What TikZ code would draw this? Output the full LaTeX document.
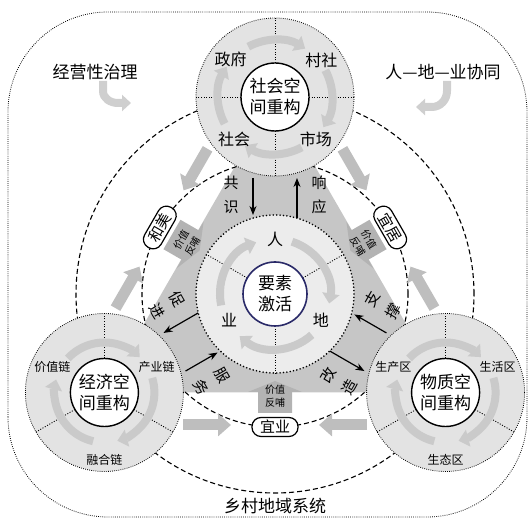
\documentclass[tikz,border=0pt]{standalone}
\usepackage{fontspec}
\setmainfont{Noto Sans CJK SC}
\usetikzlibrary{arrows.meta,calc}
\definecolor{ringgray}{HTML}{E3E3E3}
\definecolor{centerring}{HTML}{ECECEC}
\definecolor{trigray}{HTML}{C6C6C6}
\definecolor{valgray}{HTML}{B3B3B3}
\definecolor{arcgray}{HTML}{CACACA}
\definecolor{fatgray}{HTML}{BEBEBE}
\definecolor{cornergray}{HTML}{CFCFCF}
\definecolor{navyline}{HTML}{2A2A68}
\begin{document}
\begin{tikzpicture}[x=1pt,y=1pt,
  dotline/.style={line width=0.8pt, dash pattern=on 0.8pt off 1.3pt},
  bigdots/.style={line width=1.8pt, dash pattern=on 0pt off 3.4pt, line cap=round},
  dashline/.style={line width=1.1pt, dash pattern=on 5pt off 3pt},
  divider/.style={line width=0.9pt, dash pattern=on 1pt off 1.6pt},
  arcarrow/.style={draw=arcgray, line width=8pt, -{Triangle[length=10pt,width=17pt]}},
  fatarrow/.style={draw=fatgray, line width=11pt, -{Triangle[length=13pt,width=22pt]}},
  cornerarrow/.style={draw=cornergray, line width=8pt, -{Triangle[length=9pt,width=16pt]}},
  blackarrow/.style={line width=1.2pt, -{Stealth[length=9pt,width=7pt]}},
  pill/.style={draw, line width=1.2pt, fill=white, rounded corners=9pt, minimum width=46pt, minimum height=19pt, inner sep=1pt, font=\fontsize{15}{15}\selectfont},
  ctext/.style={font=\fontsize{17}{21}\selectfont, align=center},
  labtext/.style={font=\fontsize{16}{16}\selectfont, inner sep=0pt},
  smalltext/.style={font=\fontsize{12}{12}\selectfont, inner sep=0pt},
  valtext/.style={font=\fontsize{10}{13}\selectfont, align=center, inner sep=0pt},
  pairtext/.style={font=\fontsize{15}{24}\selectfont, align=center, inner sep=0pt},
  cornertext/.style={font=\fontsize{17}{17}\selectfont, inner sep=0pt},
  ringbase/.style={circle, inner sep=0pt, minimum size=158pt, fill=ringgray, draw, dotline},
  hub/.style={circle, inner sep=0pt, minimum size=68pt, draw, line width=1.4pt, fill=white, ctext},
]
\useasboundingbox (0,0) rectangle (531,519);
\coordinate (C) at (275,225);
\coordinate (T) at (275,422);
\coordinate (L) at (104.4,126.5);
\coordinate (R) at (445.6,126.5);

% outer frame
\draw[dotline, rounded corners=100pt] (8,2) rectangle (527,507);
\node[cornertext] (sys) at (275,13) {乡村地域系统};

% triangle
\fill[trigray] (T) -- (L) -- (R) -- cycle;

% dashed circles
\draw[dashline] (C) circle[radius=199];
\draw[dashline] (C) circle[radius=133];

% value feedback arrows and fat arrows
\foreach \rot/\tag in {0/b,-120/l,120/r}{
  \begin{scope}[shift={(C)}, rotate=\rot]
    \fill[valgray] (0,-87) -- (27,-98) -- (17,-98) -- (17,-119) -- (-17,-119) -- (-17,-98) -- (-27,-98) -- cycle;
    \coordinate (fa1\tag) at (-92,-131); \coordinate (fa2\tag) at (-44,-131);
    \coordinate (fb1\tag) at (92,-131); \coordinate (fb2\tag) at (44,-131);
    \coordinate (val\tag) at (0,-102);
    \coordinate (pill\tag) at (0,-133);
  \end{scope}
  \draw[fatarrow] (fa1\tag) -- (fa2\tag);
  \draw[fatarrow] (fb1\tag) -- (fb2\tag);
}

% corner texts and arrows
\node[cornertext] (gov) at (95,447) {经营性治理};
\node[cornertext] (syn) at (443,447) {人—地—业协同};
\coordinate (ga) at (103,438);
\coordinate (gb) at (131,416);
\draw[cornerarrow] (ga) -- (103,428) to[out=-90,in=180] (118,416) -- (gb);
\coordinate (sa) at (447,438);
\coordinate (sb) at (416,412);
\draw[cornerarrow] (sa) -- (447,428) to[out=-90,in=0] (432,412) -- (sb);

% centre circle
\node[circle, inner sep=0pt, minimum size=158pt, fill=centerring] (Cring) at (C) {};
\draw[bigdots] (C) circle[radius=79];
\foreach \a in {30,150,270} \draw[divider] ($(C)+(\a:32)$) -- ($(C)+(\a:79)$);
\foreach \c in {32,272,152} \draw[arcarrow] ($(C)+(\c+40:55)$) arc[start angle=\c+40, end angle=\c-42, radius=55];
\node[circle, inner sep=0pt, minimum size=64pt, draw=navyline, line width=1.6pt, fill=white, ctext] (Chub) at (C) {要素\\激活};
\node[labtext] (ren) at ($(C)+(90:55)$) {人};
\node[labtext] (ye) at ($(C)+(210:53)$) {业};
\node[labtext] (di) at ($(C)+(330:53)$) {地};

% top circle
\node[ringbase] (Tring) at (T) {};
\foreach \a in {0,90,180,270} \draw[divider] ($(T)+(\a:34)$) -- ($(T)+(\a:79)$);
\foreach \c in {90,0,270,180} \draw[arcarrow] ($(T)+(\c+28:57)$) arc[start angle=\c+28, end angle=\c-32, radius=57];
\node[hub] (Thub) at (T) {社会空\\间重构};
\node[labtext] at ($(T)+(140:58)$) {政府};
\node[labtext] at ($(T)+(38:59)$) {村社};
\node[labtext] at ($(T)+(226:59)$) {社会};
\node[labtext] at ($(T)+(314:59)$) {市场};

% left circle
\node[ringbase] (Lring) at (L) {};
\foreach \a in {90,210,330} \draw[divider] ($(L)+(\a:34)$) -- ($(L)+(\a:79)$);
\foreach \c in {90,330,210} \draw[arcarrow] ($(L)+(\c+47:50)$) arc[start angle=\c+47, end angle=\c-45, radius=50];
\node[hub] (Lhub) at (L) {经济空\\间重构};
\node[smalltext] at ($(L)+(154:58)$) {价值链};
\node[smalltext] at ($(L)+(26:58)$) {产业链};
\node[smalltext] at ($(L)+(270:67)$) {融合链};

% right circle
\node[ringbase] (Rring) at (R) {};
\foreach \a in {90,210,330} \draw[divider] ($(R)+(\a:34)$) -- ($(R)+(\a:79)$);
\foreach \c in {90,330,210} \draw[arcarrow] ($(R)+(\c+47:50)$) arc[start angle=\c+47, end angle=\c-45, radius=50];
\node[hub] (Rhub) at (R) {物质空\\间重构};
\node[smalltext] at ($(R)+(154:58)$) {生产区};
\node[smalltext] at ($(R)+(26:58)$) {生活区};
\node[smalltext] at ($(R)+(270:67)$) {生态区};

% pills
\node[pill] (yiye) at (pillb) {宜业};
\node[pill, rotate=60] (hemei) at (pilll) {和美};
\node[pill, rotate=-60] (yiju) at (pillr) {宜居};

% value texts
\node[valtext] at (valb) {价值\\反哺};
\node[valtext, rotate=60] at (vall) {价值\\反哺};
\node[valtext, rotate=-60] at (valr) {价值\\反哺};

% black arrows
\foreach \rot/\tag in {0/t,120/l,-120/r}{
  \begin{scope}[shift={(C)}, rotate=\rot]
    \coordinate (ina\tag) at (-22,116); \coordinate (inb\tag) at (-22,79);
    \coordinate (outa\tag) at (22,76); \coordinate (outb\tag) at (22,116);
    \coordinate (intx\tag) at (-44,99); \coordinate (outtx\tag) at (44,99);
  \end{scope}
  \draw[blackarrow] (ina\tag) -- (inb\tag);
  \draw[blackarrow] (outa\tag) -- (outb\tag);
}
\node[pairtext] at (intxt) {共\\识};
\node[pairtext] at (outtxt) {响\\应};
\node[pairtext, rotate=-60] at (intxl) {服\\务};
\node[pairtext, rotate=-60] at (outtxl) {促\\进};
\node[pairtext, rotate=60] at (intxr) {支\\撑};
\node[pairtext, rotate=60] at (outtxr) {改\\造};
\end{tikzpicture}
\end{document}
